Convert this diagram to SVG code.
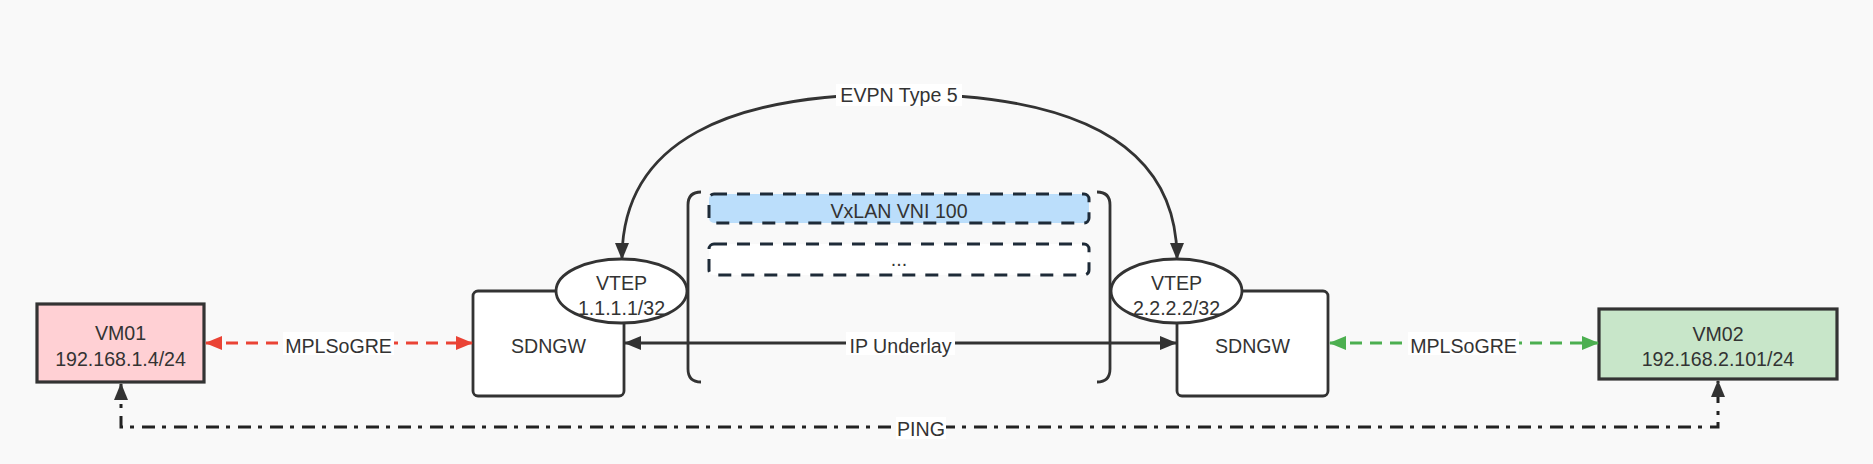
<svg xmlns="http://www.w3.org/2000/svg" width="1873" height="464" viewBox="0 0 1873 464">
  <style>
    text { font-family: "Liberation Sans", Arial, Helvetica, sans-serif; font-size: 19.6px; fill: #333333; text-anchor: middle; }
    .box { stroke: #333333; stroke-width: 2.8; }
    .vm { stroke: #333333; stroke-width: 3.2; }
    .dbox { stroke: #1e2b38; stroke-width: 3; stroke-dasharray: 13 10; }
    .edge { fill: none; stroke: #333333; stroke-width: 2.8; }
    .red { fill: none; stroke: #ea4335; stroke-width: 3; stroke-dasharray: 12 8; }
    .green { fill: none; stroke: #4caf50; stroke-width: 3; stroke-dasharray: 12 8; }
    .ping { fill: none; stroke: #222222; stroke-width: 3; stroke-dasharray: 13 7 4 8; }
    .lbl { fill: #ffffff; }
  </style>
  <defs>
    <marker id="arrDark" markerUnits="userSpaceOnUse" viewBox="0 0 17 14" refX="16" refY="7" markerWidth="17" markerHeight="14" orient="auto-start-reverse">
      <path d="M0,0 L17,7 L0,14 Z" fill="#333333"/>
    </marker>
    <marker id="arrRed" markerUnits="userSpaceOnUse" viewBox="0 0 17 14" refX="16" refY="7" markerWidth="17" markerHeight="14" orient="auto-start-reverse">
      <path d="M0,0 L17,7 L0,14 Z" fill="#ea4335"/>
    </marker>
    <marker id="arrGreen" markerUnits="userSpaceOnUse" viewBox="0 0 17 14" refX="16" refY="7" markerWidth="17" markerHeight="14" orient="auto-start-reverse">
      <path d="M0,0 L17,7 L0,14 Z" fill="#4caf50"/>
    </marker>
  </defs>

  <rect x="0" y="0" width="1873" height="464" fill="#f9f9f9"/>

  <g id="brackets">
    <path class="edge" d="M 701 192 Q 688 192 688 205 L 688 369 Q 688 382 701 382"/>
    <path class="edge" d="M 1097 192 Q 1110 192 1110 205 L 1110 369 Q 1110 382 1097 382"/>
  </g>

  <g id="vxlan">
    <rect class="dbox" x="709" y="194" width="380" height="29" rx="5" fill="#bbdefb"/>
    <text x="899" y="218">VxLAN VNI 100</text>
  </g>
  <g id="more">
    <rect class="dbox" x="709" y="244" width="380" height="31" rx="5" fill="#ffffff"/>
    <text x="899" y="266">...</text>
  </g>

  <g id="vm01">
    <rect class="vm" x="37" y="304" width="167" height="78" fill="#ffd0d4"/>
    <text x="120.5" y="340">VM01</text>
    <text x="120.5" y="366">192.168.1.4/24</text>
  </g>

  <g id="sdngw1">
    <rect class="box" x="473" y="291" width="151" height="105" rx="5" fill="#ffffff"/>
    <text x="548.5" y="353">SDNGW</text>
  </g>
  <g id="vtep1">
    <ellipse class="box" cx="621.5" cy="291" rx="65.5" ry="32" fill="#ffffff"/>
    <text x="621.5" y="290">VTEP</text>
    <text x="621.5" y="315">1.1.1.1/32</text>
  </g>

  <g id="sdngw2">
    <rect class="box" x="1177" y="291" width="151" height="105" rx="5" fill="#ffffff"/>
    <text x="1252.5" y="353">SDNGW</text>
  </g>
  <g id="vtep2">
    <ellipse class="box" cx="1176.5" cy="291" rx="65.5" ry="32" fill="#ffffff"/>
    <text x="1176.5" y="290">VTEP</text>
    <text x="1176.5" y="315">2.2.2.2/32</text>
  </g>

  <g id="vm02">
    <rect class="vm" x="1599" y="309" width="238" height="70" fill="#c8e6c9"/>
    <text x="1718" y="341">VM02</text>
    <text x="1718" y="366">192.168.2.101/24</text>
  </g>

  <g id="connectors">
    <path class="edge" d="M 622 259 C 622 140 730 94 899 94 C 1068 94 1177 140 1177 259" marker-start="url(#arrDark)" marker-end="url(#arrDark)"/>
    <rect class="lbl" x="836" y="84" width="126" height="22"/>
    <text x="899" y="102">EVPN Type 5</text>

    <path class="edge" d="M 625 343 L 1176 343" marker-start="url(#arrDark)" marker-end="url(#arrDark)"/>
    <rect class="lbl" x="846" y="332" width="109" height="23"/>
    <text x="900.5" y="353">IP Underlay</text>

    <path class="red" d="M 206 343 L 472 343" marker-start="url(#arrRed)" marker-end="url(#arrRed)"/>
    <rect class="lbl" x="283" y="332" width="111" height="23"/>
    <text x="338.5" y="353">MPLSoGRE</text>

    <path class="green" d="M 1330 343 L 1598 343" marker-start="url(#arrGreen)" marker-end="url(#arrGreen)"/>
    <rect class="lbl" x="1408" y="332" width="111" height="23"/>
    <text x="1463.5" y="353">MPLSoGRE</text>

    <path class="ping" d="M 121 384 L 121 427 L 1718 427 L 1718 381" marker-start="url(#arrDark)" marker-end="url(#arrDark)"/>
    <rect class="lbl" x="896" y="417" width="50" height="22"/>
    <text x="921" y="436">PING</text>
  </g>
</svg>
